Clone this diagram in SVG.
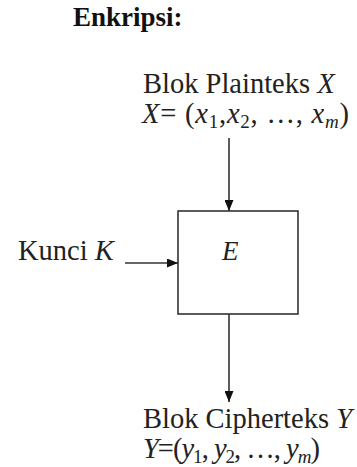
<svg xmlns="http://www.w3.org/2000/svg" width="357" height="467" viewBox="0 0 357 467">
<style>
text{font-family:'Liberation Serif','DejaVu Serif',serif;fill:#222;font-size:28.5px}
.i{font-style:italic}
.sub{font-size:19px;font-style:normal}
.subi{font-size:19px;font-style:italic}
.title{font-weight:bold;font-size:27px;fill:#111}
.ln{stroke:#333;stroke-width:1.6;fill:none}
</style>
<defs>
<marker id="ah" viewBox="0 0 10 10" refX="10" refY="5" markerWidth="11" markerHeight="9" markerUnits="userSpaceOnUse" orient="auto" preserveAspectRatio="none">
<path d="M0,0 L10,5 L0,10 z" fill="#111"/>
</marker>
</defs>
<rect width="357" height="467" fill="#fff"/>
<g id="title"><text class="title" x="73" y="26">Enkripsi:</text></g>
<g id="plain">
<text x="143" y="93">Blok Plainteks <tspan class="i">X</tspan></text>
<text x="142" y="123" textLength="207" lengthAdjust="spacing"><tspan class="i">X</tspan>= (<tspan class="i">x</tspan><tspan class="sub" dy="5">1</tspan><tspan dy="-5">,</tspan><tspan class="i">x</tspan><tspan class="sub" dy="5">2</tspan><tspan dy="-5">, …, </tspan><tspan class="i">x</tspan><tspan class="subi" dy="5">m</tspan><tspan dy="-5">)</tspan></text>
</g>
<g id="key"><text x="18" y="260">Kunci <tspan class="i">K</tspan></text></g>
<g id="E">
<rect class="ln" x="178" y="211" width="120" height="103"/>
<text class="i" x="222" y="260" style="font-size:27px">E</text>
</g>
<g id="cipher">
<text x="143" y="428">Blok Cipherteks <tspan class="i">Y</tspan></text>
<text x="143" y="458" textLength="177" lengthAdjust="spacing"><tspan class="i">Y</tspan>=(<tspan class="i">y</tspan><tspan class="sub" dy="5">1</tspan><tspan dy="-5">, </tspan><tspan class="i">y</tspan><tspan class="sub" dy="5">2</tspan><tspan dy="-5">, …, </tspan><tspan class="i">y</tspan><tspan class="subi" dy="5">m</tspan><tspan dy="-5">)</tspan></text>
</g>
<g id="connectors">
<line class="ln" x1="229" y1="138" x2="229" y2="211" marker-end="url(#ah)"/>
<line class="ln" x1="125" y1="263" x2="178" y2="263" marker-end="url(#ah)"/>
<line class="ln" x1="229" y1="314" x2="229" y2="402" marker-end="url(#ah)"/>
</g>
</svg>
